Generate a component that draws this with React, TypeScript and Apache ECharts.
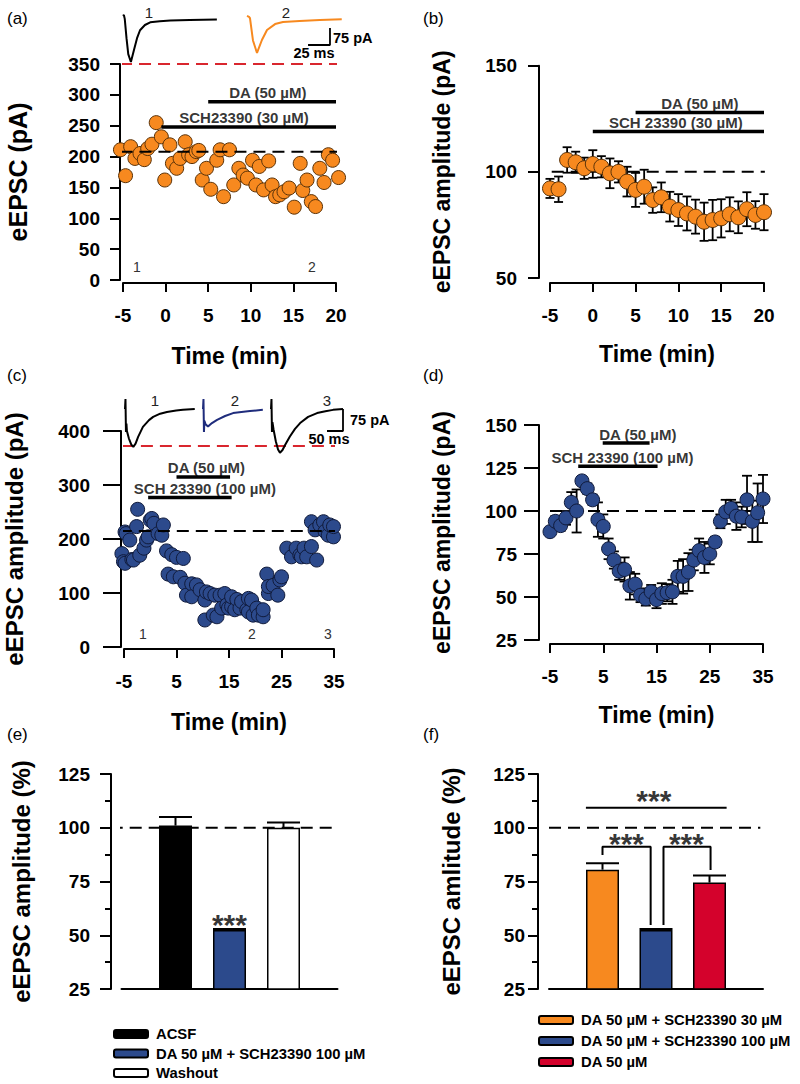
import React, { useEffect, useRef } from "react";
import * as echarts from "echarts";

const FONT = "'Liberation Sans', Arial, Helvetica, sans-serif";
const ORANGE = "#f7891f";
const BLUE = "#2c4a8c";
const RED = "#d4022c";
const NAVY = "#1f2c7c";
const REDDASH = "#d9262e";

// ---------- (a) single cell, SCH23390 30 µM + DA ----------
const aTime = [-5.3, -4.7, -4.1, -3.6, -3.0, -2.5, -2.1, -1.6, -1.1, -0.5, -0.1, 0.5, 0.8, 1.3, 1.7, 2.3, 2.7, 3.1, 3.6, 3.9, 4.3, 4.8, 5.3, 6.0, 6.4, 6.8, 7.5, 8.0, 8.6, 9.1, 9.6, 10.2, 10.6, 11.0, 11.5, 12.1, 12.5, 12.9, 13.4, 13.9, 14.5, 15.1, 15.8, 16.1, 16.6, 17.1, 17.6, 18.1, 18.6, 19.1, 19.6, 20.3];
const aAmp = [211, 169, 216, 197, 205, 195, 213, 220, 255, 232, 162, 219, 189, 181, 197, 224, 203, 200, 208, 210, 162, 181, 147, 194, 211, 135, 211, 154, 181, 170, 165, 194, 154, 184, 146, 193, 154, 135, 138, 143, 149, 118, 189, 145, 162, 127, 119, 181, 158, 203, 194, 166];
const aBaseline = 208;
const aTracePeak = 350;
const aXTicks = [-5, 0, 5, 10, 15, 20];
const aDrugs = [
  { label: "DA (50 µM)", from: 5, to: 20, level: 289, labelAt: 12 },
  { label: "SCH23390 (30 µM)", from: -0.5, to: 20, level: 248, labelAt: 9.2 },
];
// sample traces (ms, pA)
const aTrace1Ms = [0, 1, 2, 4, 6, 9, 12.5, 16, 19.4, 25, 31, 42, 54, 76, 107];
const aTrace1pA = [18, 22, 5, -80, -150, -185, -132, -80, -45, -22, -10, -5, -2, 0, 2];
const aTrace2Ms = [0, 2.3, 3.4, 6.8, 11.4, 17, 22.8, 32, 41, 60, 83, 108];
const aTrace2pA = [18, 14, 8, -90, -145, -88, -44, -18, -9, -4, 0, 3];

// ---------- (b) group mean ----------
const bTime = [-5, -4, -3, -2, -1, 0, 1, 2, 3, 4, 5, 6, 7, 8, 9, 10, 11, 12, 13, 14, 15, 16, 17, 18, 19, 20];
const bMean = [92.2, 91.8, 105.6, 104.5, 101.7, 103.7, 102.4, 99.3, 100, 95.4, 91.5, 93, 86.7, 88, 83.6, 82, 80.4, 78.9, 76.5, 77.3, 78.1, 80, 78.6, 82.4, 79.7, 81];
const bSem = [4.5, 6, 6, 5, 5, 6.5, 5, 7, 5, 7, 8, 8, 6, 7, 7, 7.5, 8, 8, 9, 9.5, 9, 8, 7.5, 8, 6.5, 8.5];
const bDrugs = [
  { label: "DA (50 µM)", from: 5, to: 20, level: 128, labelAt: 12.5 },
  { label: "SCH 23390 (30 µM)", from: 0, to: 20, level: 119, labelAt: 9.7 },
];

// ---------- (c) single cell, SCH23390 100 µM + DA ----------
const cTime = [-5.4, -5.1, -4.8, -4.8, -4.6, -3.9, -3.5, -3.2, -2.6, -2.4, -2.0, -1.2, -0.7, -0.4, 0.0, 0.3, 0.7, 1.5, 2.2, 2.5, 3.1, 3.4, 4.1, 4.4, 5.0, 5.7, 6.3, 6.6, 6.9, 7.9, 7.9, 8.8, 9.5, 10.4, 10.4, 10.7, 11.4, 12.0, 12.3, 12.7, 13.3, 13.6, 14.2, 14.6, 14.9, 15.5, 15.5, 16.1, 16.5, 17.1, 17.4, 18.4, 18.7, 18.7, 19.3, 19.6, 20.3, 20.6, 21.5, 21.5, 22.2, 22.5, 22.5, 23.4, 24.3, 24.7, 25.0, 26.0, 26.9, 27.8, 28.5, 28.8, 29.3, 29.8, 30.7, 30.7, 31.4, 31.7, 32.3, 33.0, 33.3, 33.9, 34.2, 34.9, 34.9];
const cAmp = [173, 158, 213, 155, 210, 198, 162, 161, 223, 255, 170, 183, 198, 204, 235, 238, 229, 210, 207, 226, 178, 135, 171, 130, 166, 129, 164, 118, 96, 117, 93, 115, 106, 87, 50, 102, 99, 59, 96, 56, 96, 72, 99, 78, 72, 75, 93, 69, 88, 72, 84, 69, 90, 65, 87, 59, 72, 59, 56, 69, 135, 99, 112, 114, 96, 124, 130, 183, 167, 183, 170, 167, 183, 167, 186, 232, 217, 161, 226, 232, 214, 207, 226, 204, 223];
const cBaseline = 215;
const cTracePeak = 372;
const cdXTicks = [-5, 5, 15, 25, 35];
const cDrugs = [
  { label: "DA (50 µM)", from: 5, to: 15.2, level: 315, labelAt: 10.7 },
  { label: "SCH 23390 (100 µM)", from: -0.4, to: 15.5, level: 277, labelAt: 10.4 },
];
const cTrace1Ms = [0, 1.5, 3, 4.5, 6, 12, 20, 26, 33, 41, 56, 75, 88, 110, 131, 160, 181, 218];
const cTrace1pA = [0, 34, -78, -50, -75, -100, -122, -129, -118, -95, -61, -38, -27, -16, -10, -5, -3, 0];
const cTrace2Ms = [0, 1.5, 3, 4.5, 8, 15.6, 28, 44, 69, 94, 120, 147, 187];
const cTrace2pA = [0, 34, -78, -40, -52, -60, -48, -37, -24, -14, -10, -7, -3];
const cTrace3Ms = [0, 1.5, 3, 4.5, 8, 15, 22, 28, 36, 44, 59, 75, 91, 116, 144, 170, 194, 225];
const cTrace3pA = [0, 34, -78, -45, -70, -110, -138, -149, -140, -123, -94, -68, -48, -27, -14, -8, -3, 0];

// ---------- (d) group mean ----------
const dTime = [-5, -4, -3, -2, -1, 0, 1, 2, 3, 4, 5, 6, 7, 8, 9, 10, 11, 12, 13, 14, 15, 16, 17, 18, 19, 20, 21, 22, 23, 24, 25, 26, 27, 28, 29, 30, 31, 32, 33, 34, 35];
const dMean = [88, 94, 91.5, 96, 105, 100, 117.5, 113, 106.5, 95, 91, 78, 71.5, 65, 66, 56.5, 57.5, 51, 49, 53, 48.5, 52, 52.5, 53, 62, 62, 64.5, 71.5, 77, 73, 75, 82, 94, 99.5, 101.5, 97, 96.5, 106.5, 94, 99, 107];
const dSem = [2, 3, 3, 4, 6, 12.5, 2, 3, 3, 10, 7, 6, 5, 5, 7, 8, 6, 4, 4, 4, 5, 6, 5, 7, 9, 10, 11, 6, 7, 9, 6, 3, 4, 7, 5, 8, 6, 14, 12, 17, 14];
const dDrugs = [
  { label: "DA (50 µM)", from: 4.9, to: 13.7, level: 139.5, labelAt: 11.5 },
  { label: "SCH 23390 (100 µM)", from: 0.3, to: 15.2, level: 126, labelAt: 8.6 },
];

// ---------- (e) and (f) summaries ----------
const eGroups = ["ACSF", "DA 50 µM + SCH23390 100 µM", "Washout"];
const eMean = [101, 52.5, 100];
const eSem = [4, 0.4, 2.5];
const eColors = ["#000000", BLUE, "#ffffff"];
const fGroups = ["DA 50 µM + SCH23390 30 µM", "DA 50 µM + SCH23390 100 µM", "DA 50 µM"];
const fMean = [80.5, 52.5, 74.5];
const fSem = [3, 0.4, 3.3];
const fColors = [ORANGE, BLUE, RED];
const eSig = [{ text: "***", x: 2, y: 55.2 }];
const fSig = [
  { text: "***", x: 1.96, y: 112.6 },
  { text: "***", x: 1.45, y: 92.5 },
  { text: "***", x: 2.57, y: 92.5 },
];
const fBrackets = [
  [[0.69, 109.3], [3.32, 109.3]],
  [[1, 87.3], [1, 91.2], [1.9, 91.2], [1.9, 54.8]],
  [[2.14, 54.8], [2.14, 91.2], [3.02, 91.2], [3.02, 80.3]],
];

const zip = (xs: number[], ys: number[]) => xs.map((x, i) => [x, ys[i]]);

const grids = [
  { left: 123, top: 64, width: 213, height: 216 },
  { left: 550, top: 65.7, width: 214, height: 212.3 },
  { left: 124, top: 431, width: 210, height: 216 },
  { left: 550, top: 425, width: 213, height: 215 },
  { left: 121.5, top: 774, width: 216, height: 215 },
  { left: 549, top: 774, width: 214, height: 215 },
  { left: 123, top: 10, width: 94, height: 60 },
  { left: 247, top: 10, width: 95, height: 60 },
  { left: 125, top: 395, width: 70, height: 60 },
  { left: 203, top: 395, width: 60, height: 60 },
  { left: 271, top: 395, width: 72, height: 60 },
].map((g) => ({ ...g, containLabel: false, outerBoundsMode: "none" }));

const black = "#000";
const tickFont = { fontFamily: FONT, fontWeight: "bold", fontSize: 19, color: black };

function mainX(gridIndex: number, min: number, max: number, ticks: number[], offset: number, nameGap: number) {
  return {
    type: "value", gridIndex, min, max, offset,
    axisLine: { show: true, onZero: false, lineStyle: { color: black, width: 2 } },
    axisTick: { show: true, length: 9, lineStyle: { color: black, width: 2 }, customValues: ticks },
    axisLabel: { show: true, margin: 23, customValues: ticks, ...tickFont },
    splitLine: { show: false },
    name: "Time (min)", nameLocation: "middle", nameGap,
    nameTextStyle: { fontFamily: FONT, fontWeight: "bold", fontSize: 23, color: black },
  };
}
function mainY(gridIndex: number, min: number, max: number, interval: number, name: string, nameSize: number, nameGap: number, offset: number, margin: number, tickLen: number, minor = false) {
  return {
    type: "value", gridIndex, min, max, interval, offset,
    axisLine: { show: true, onZero: false, lineStyle: { color: black, width: 2 } },
    axisTick: { show: true, length: tickLen, lineStyle: { color: black, width: 2 } },
    minorTick: { show: minor, splitNumber: 2, length: 6, lineStyle: { color: black, width: 2 } },
    axisLabel: { show: true, margin, ...tickFont },
    splitLine: { show: false },
    name, nameLocation: "middle", nameRotate: 90, nameGap,
    nameTextStyle: { fontFamily: FONT, fontWeight: "bold", fontSize: nameSize, color: black },
  };
}
function hiddenAxis(gridIndex: number, min: number, max: number) {
  return { type: "value", gridIndex, min, max, show: false, splitLine: { show: false } };
}

function errRender(cap: number, lw: number, upperOnly: boolean) {
  return (params: any, api: any) => {
    const x = api.value(0);
    const lo = api.value(1);
    const hi = api.value(2);
    const a = api.coord([x, lo]);
    const b = api.coord([x, hi]);
    const st = { stroke: black, lineWidth: lw };
    const children: any[] = [
      { type: "line", shape: { x1: a[0], y1: a[1], x2: b[0], y2: b[1] }, style: st },
      { type: "line", shape: { x1: b[0] - cap / 2, y1: b[1], x2: b[0] + cap / 2, y2: b[1] }, style: st },
    ];
    if (!upperOnly) children.push({ type: "line", shape: { x1: a[0] - cap / 2, y1: a[1], x2: a[0] + cap / 2, y2: a[1] }, style: st });
    return { type: "group", children };
  };
}

function dashed(idx: number, x0: number, x1: number, y: number, color: string, z: number) {
  return {
    type: "line", xAxisIndex: idx, yAxisIndex: idx, data: [[x0, y], [x1, y]], symbol: "none", clip: false, silent: true, z,
    lineStyle: { color, width: 2, type: [12, 7] },
  };
}

function drugSeries(idx: number, drugs: any[]) {
  const out: any[] = [];
  drugs.forEach((d) => {
    out.push({
      type: "line", xAxisIndex: idx, yAxisIndex: idx, data: [[d.from, d.level], [d.to, d.level]], symbol: "none", clip: false, silent: true, z: 4,
      lineStyle: { color: black, width: 3.5 },
    });
    out.push({
      type: "scatter", xAxisIndex: idx, yAxisIndex: idx, data: [[d.labelAt, d.level]], symbolSize: 0.1, clip: false, silent: true, z: 4,
      itemStyle: { color: "transparent" },
      label: { show: true, position: "top", distance: 1.5, formatter: d.label, fontFamily: FONT, fontWeight: "bold", fontSize: 15, color: black },
    });
  });
  return out;
}

function traceSeries(idx: number, ms: number[], pA: number[], color: string) {
  return {
    type: "line", xAxisIndex: idx, yAxisIndex: idx, data: zip(ms, pA), symbol: "none", clip: false, silent: true,
    lineStyle: { color, width: 2 },
  };
}

function summarySeries(idx: number, groups: string[], means: number[], sems: number[], colors: string[]) {
  const out: any[] = [];
  groups.forEach((g, i) => {
    out.push({
      type: "bar", name: g, xAxisIndex: idx, yAxisIndex: idx, data: [[i + 1, means[i]]], barWidth: 33, barGap: "-100%", z: 3,
      itemStyle: { color: colors[i], borderColor: black, borderWidth: 1.5, opacity: 1 },
    });
  });
  out.push({
    type: "custom", xAxisIndex: idx, yAxisIndex: idx, z: 4, silent: true,
    renderItem: errRender(33, 2, true),
    encode: { x: 0, y: [1, 2] },
    data: means.map((m, i) => [i + 1, m, m + sems[i]]),
  });
  return out;
}

function sigSeries(idx: number, marks: any[]) {
  return marks.map((m) => ({
    type: "scatter", xAxisIndex: idx, yAxisIndex: idx, data: [[m.x, m.y]], symbolSize: 0.1, clip: false, silent: true, z: 6,
    itemStyle: { color: "transparent" },
    label: { show: true, position: [0, 0], align: "center", verticalAlign: "middle", formatter: m.text, fontFamily: FONT, fontWeight: "bold", fontSize: 30, color: black },
  }));
}

function txt(s: string, x: number, y: number, size: number, weight: string, align = "left", color = black) {
  return {
    type: "text", x, y, silent: true,
    style: { text: s, fontFamily: FONT, fontSize: size, fontWeight: weight, fill: color, align, verticalAlign: "middle" },
  };
}

const legendText = { fontFamily: FONT, fontWeight: "bold", fontSize: 14.8, color: black, lineHeight: 17, padding: [0, 0, 0, 3] };
const pointStyle = (c: string, b: string) => ({ color: c, borderColor: b, borderWidth: 1, opacity: 1 });

const option: any = {
  animation: false,
  backgroundColor: "#ffffff",
  grid: grids,
  xAxis: [
    mainX(0, -5, 20, aXTicks, 3, 61),
    mainX(1, -5, 20, aXTicks, 5, 59),
    mainX(2, -5, 35, cdXTicks, 2, 61),
    mainX(3, -5, 35, cdXTicks, 4, 59),
    { type: "value", gridIndex: 4, min: 0, max: 4, axisLine: { show: true, onZero: false, lineStyle: { color: black, width: 2 } }, axisTick: { show: false }, axisLabel: { show: false }, splitLine: { show: false } },
    { type: "value", gridIndex: 5, min: 0, max: 4, axisLine: { show: true, onZero: false, lineStyle: { color: black, width: 2 } }, axisTick: { show: false }, axisLabel: { show: false }, splitLine: { show: false } },
    hiddenAxis(6, 0, 94 * 1.14),
    hiddenAxis(7, 0, 95 * 1.14),
    hiddenAxis(8, 0, 70 * 3.125),
    hiddenAxis(9, 0, 60 * 3.125),
    hiddenAxis(10, 0, 72 * 3.125),
  ],
  yAxis: [
    mainY(0, 0, 350, 50, "eEPSC (pA)", 25, 90, 3, 20, 10),
    mainY(1, 50, 150, 50, "eEPSC amplitude (pA)", 23, 86, 11, 22, 11),
    mainY(2, 0, 400, 100, "eEPSC amplitude (pA)", 24, 95, 3, 31, 18),
    mainY(3, 25, 150, 25, "eEPSC amplitude (pA)", 23, 86, 11, 22, 15),
    mainY(4, 25, 125, 25, "eEPSC amplitude (%)", 24, 78, 10.5, 21, 11, true),
    mainY(5, 25, 125, 25, "eEPSC amlitude (%)", 24, 75, 11, 13, 10, true),
    hiddenAxis(6, -220, 44),
    hiddenAxis(7, -220, 44),
    hiddenAxis(8, -156.9, 47.7),
    hiddenAxis(9, -156.9, 47.7),
    hiddenAxis(10, -156.9, 47.7),
  ],
  legend: [
    {
      data: eGroups, orient: "vertical", left: 113, top: 1025.5, height: 58, padding: 0, itemWidth: 34, itemHeight: 8, itemGap: 2.5, icon: "roundRect", selectedMode: false,
      textStyle: legendText,
    },
    {
      data: fGroups, orient: "vertical", left: 538, top: 1011.5, height: 70, padding: 0, itemWidth: 34, itemHeight: 8, itemGap: 4, icon: "roundRect", selectedMode: false,
      textStyle: legendText,
    },
  ],
  series: [
    // (a)
    { type: "scatter", xAxisIndex: 0, yAxisIndex: 0, data: zip(aTime, aAmp), symbolSize: 14, clip: false, z: 2, itemStyle: pointStyle(ORANGE, "#5a3208") },
    dashed(0, -5.3, 20.2, aBaseline, black, 3),
    dashed(0, -5.35, 20.25, aTracePeak, REDDASH, 3),
    ...drugSeries(0, aDrugs),
    traceSeries(6, aTrace1Ms, aTrace1pA, black),
    traceSeries(7, aTrace2Ms, aTrace2pA, ORANGE),
    {
      type: "line", xAxisIndex: 7, yAxisIndex: 7, symbol: "none", clip: false, silent: true,
      data: [[94.6 - 25, -110], [94.6, -110], [94.6, -110 + 75]], lineStyle: { color: black, width: 1.8 },
    },
    // (b)
    dashed(1, -4.8, 20.1, 100, black, 1),
    { type: "custom", xAxisIndex: 1, yAxisIndex: 1, z: 1, silent: true, renderItem: errRender(9, 1.8, false), encode: { x: 0, y: [1, 2] }, data: bTime.map((t, i) => [t, bMean[i] - bSem[i], bMean[i] + bSem[i]]) },
    { type: "scatter", xAxisIndex: 1, yAxisIndex: 1, data: zip(bTime, bMean), symbolSize: 15, clip: false, z: 2, itemStyle: pointStyle(ORANGE, "#5a3208") },
    ...drugSeries(1, bDrugs),
    // (c)
    { type: "scatter", xAxisIndex: 2, yAxisIndex: 2, data: zip(cTime, cAmp), symbolSize: 14, clip: false, z: 2, itemStyle: pointStyle(BLUE, "#101a3a") },
    dashed(2, -5.8, 35.2, cBaseline, black, 3),
    dashed(2, -5.4, 35.8, cTracePeak, REDDASH, 3),
    ...drugSeries(2, cDrugs),
    traceSeries(8, cTrace1Ms, cTrace1pA, black),
    traceSeries(9, cTrace2Ms, cTrace2pA, NAVY),
    traceSeries(10, cTrace3Ms, cTrace3pA, black),
    {
      type: "line", xAxisIndex: 10, yAxisIndex: 10, symbol: "none", clip: false, silent: true,
      data: [[225 - 50, -75], [225, -75], [225, 0]], lineStyle: { color: black, width: 1.8 },
    },
    // (d)
    dashed(3, -5, 35, 100, black, 1),
    { type: "custom", xAxisIndex: 3, yAxisIndex: 3, z: 1, silent: true, renderItem: errRender(10, 1.8, false), encode: { x: 0, y: [1, 2] }, data: dTime.map((t, i) => [t, dMean[i] - dSem[i], dMean[i] + dSem[i]]) },
    { type: "scatter", xAxisIndex: 3, yAxisIndex: 3, data: zip(dTime, dMean), symbolSize: 14, clip: false, z: 2, itemStyle: pointStyle(BLUE, "#101a3a") },
    ...drugSeries(3, dDrugs),
    // (e)
    dashed(4, -0.2, 3.95, 100, black, 2),
    ...summarySeries(4, eGroups, eMean, eSem, eColors),
    ...sigSeries(4, eSig),
    // (f)
    dashed(5, 0, 3.95, 100, black, 2),
    ...summarySeries(5, fGroups, fMean, fSem, fColors),
    ...fBrackets.map((b) => ({ type: "line", xAxisIndex: 5, yAxisIndex: 5, data: b, symbol: "none", clip: false, silent: true, z: 5, lineStyle: { color: black, width: 2 } })),
    ...sigSeries(5, fSig),
  ],
  graphic: [
    txt("(a)", 7, 18, 17, "normal"),
    txt("(b)", 423, 18, 17, "normal"),
    txt("(c)", 7, 375, 17, "normal"),
    txt("(d)", 423, 375, 17, "normal"),
    txt("(e)", 7, 734, 17, "normal"),
    txt("(f)", 423, 734, 17, "normal"),
    txt("1", 149, 12, 15, "normal", "center", "#222"),
    txt("2", 286, 12, 15, "normal", "center", "#222"),
    txt("75 pA", 333, 38, 14.5, "bold"),
    txt("25 ms", 314, 53, 14.5, "bold", "center"),
    txt("1", 137, 267, 14, "normal", "center", "#333"),
    txt("2", 312, 267, 14, "normal", "center", "#333"),
    txt("1", 155, 400, 15, "normal", "center", "#222"),
    txt("2", 235, 400, 15, "normal", "center", "#222"),
    txt("3", 327, 400, 15, "normal", "center", "#222"),
    txt("75 pA", 350, 420, 14.5, "bold"),
    txt("50 ms", 329, 439, 14.5, "bold", "center"),
    txt("1", 143, 634, 14, "normal", "center", "#333"),
    txt("2", 252, 634, 14, "normal", "center", "#333"),
    txt("3", 328, 634, 14, "normal", "center", "#333"),
  ],
};

export default function App() {
  const ref = useRef<HTMLDivElement>(null);
  useEffect(() => {
    document.body.style.margin = "0";
    const chart = echarts.init(ref.current as HTMLDivElement, null, { renderer: "svg", width: 800, height: 1084 });
    chart.setOption(option);
    return () => chart.dispose();
  }, []);
  return <div ref={ref} style={{ width: 800, height: 1084 }} />;
}
